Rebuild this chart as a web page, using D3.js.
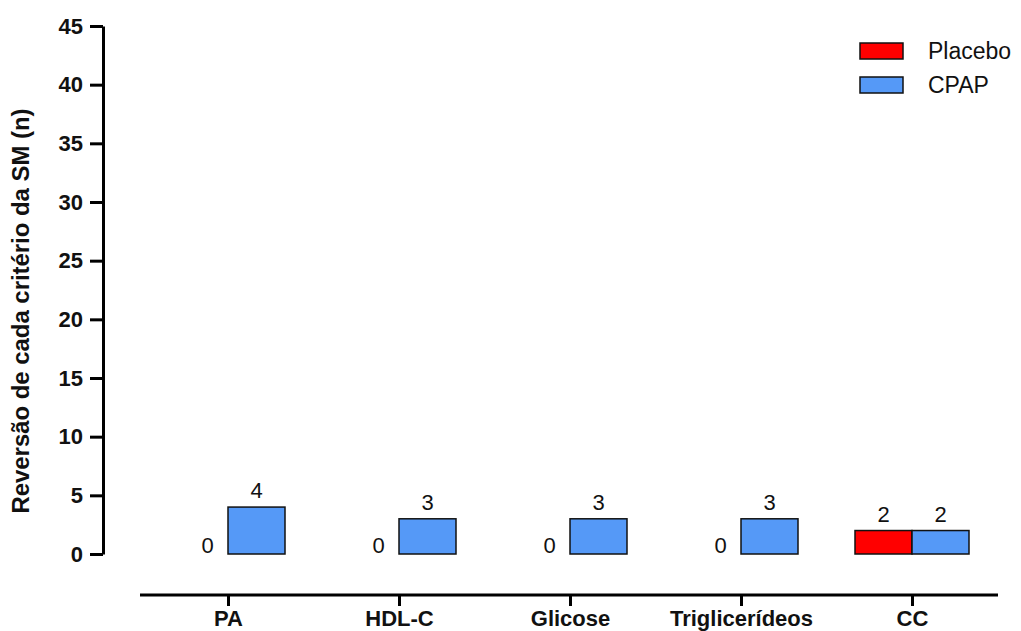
<!DOCTYPE html>
<html>
<head>
<meta charset="utf-8">
<script src="https://cdn.jsdelivr.net/npm/d3@7"></script>
<style>
  body { margin: 0; background: #fff; }
  svg { display: block; font-family: "Liberation Sans", Arial, sans-serif; }
</style>
</head>
<body>
<svg id="chart" width="1021" height="631"></svg>
<script>
const categories = ["PA", "HDL-C", "Glicose", "Triglicerídeos", "CC"];
const placebo = [0, 0, 0, 0, 2];
const cpap = [4, 3, 3, 3, 2];
const seriesNames = ["Placebo", "CPAP"];
const seriesColors = ["#ff0000", "#5599f7"];
const yTicks = [0, 5, 10, 15, 20, 25, 30, 35, 40, 45];

const svg = d3.select("#chart");
const y = d3.scaleLinear().domain([0, 45]).range([554, 26]);
const x = d3.scalePoint().domain(categories).range([228, 912]);
const barW = 57;

// Y axis
const yAxis = svg.append("g").attr("transform", "translate(103,0)")
  .call(d3.axisLeft(y).tickValues(yTicks).tickSize(13).tickPadding(7).tickSizeOuter(0));
yAxis.select(".domain").attr("stroke", "#000").attr("stroke-width", 3);
yAxis.selectAll(".tick line").attr("stroke", "#000").attr("stroke-width", 3);
yAxis.selectAll(".tick text").attr("font-size", 22).attr("font-weight", "bold").attr("fill", "#111")
  .attr("font-family", "Liberation Sans, Arial, sans-serif");

// X axis
const xAxisG = svg.append("g").attr("transform", "translate(0,595)");
xAxisG.append("line").attr("x1", 140).attr("x2", 998).attr("y1", 0).attr("y2", 0)
  .attr("stroke", "#000").attr("stroke-width", 3);
const xAxis = xAxisG.append("g")
  .call(d3.axisBottom(x).tickSize(11).tickPadding(4).tickSizeOuter(0));
xAxis.select(".domain").remove();
xAxis.selectAll(".tick line").attr("stroke", "#000").attr("stroke-width", 3);
xAxis.selectAll(".tick text").attr("font-size", 22).attr("font-weight", "bold").attr("fill", "#111")
  .attr("font-family", "Liberation Sans, Arial, sans-serif");

// Y title
svg.append("text")
  .attr("transform", "translate(29,311) rotate(-90)")
  .attr("text-anchor", "middle")
  .attr("font-size", 23).attr("font-weight", "bold").attr("fill", "#111")
  .attr("textLength", 405).attr("lengthAdjust", "spacingAndGlyphs")
  .text("Reversão de cada critério da SM (n)");

// Bars
const data = categories.map((c, i) => ({ c, vals: [placebo[i], cpap[i]] }));
const groups = svg.append("g").selectAll("g").data(data).join("g");
groups.each(function(d) {
  const g = d3.select(this);
  d.vals.forEach((v, j) => {
    const x0 = x(d.c) + (j === 0 ? -barW : 0);
    if (v > 0) {
      g.append("rect")
        .attr("x", x0).attr("width", barW)
        .attr("y", y(v)).attr("height", y(0) - y(v))
        .attr("fill", seriesColors[j]).attr("stroke", "#111").attr("stroke-width", 1.5);
      g.append("text")
        .attr("x", x0 + barW / 2).attr("y", y(v) - 9)
        .attr("text-anchor", "middle").attr("font-size", 22).attr("fill", "#111")
        .text(v);
    } else {
      g.append("text")
        .attr("x", x0 + barW / 2 + 8).attr("y", y(0) - 1)
        .attr("text-anchor", "middle").attr("font-size", 22).attr("fill", "#111")
        .text(v);
    }
  });
});

// Legend
const legend = svg.append("g");
seriesNames.forEach((n, i) => {
  legend.append("rect").attr("x", 860).attr("y", 43 + i * 34).attr("width", 43).attr("height", 16)
    .attr("fill", seriesColors[i]).attr("stroke", "#111").attr("stroke-width", 1.5);
  legend.append("text").attr("x", 928).attr("y", 59 + i * 34)
    .attr("font-size", 23).attr("fill", "#111").text(n);
});
</script>
</body>
</html>
